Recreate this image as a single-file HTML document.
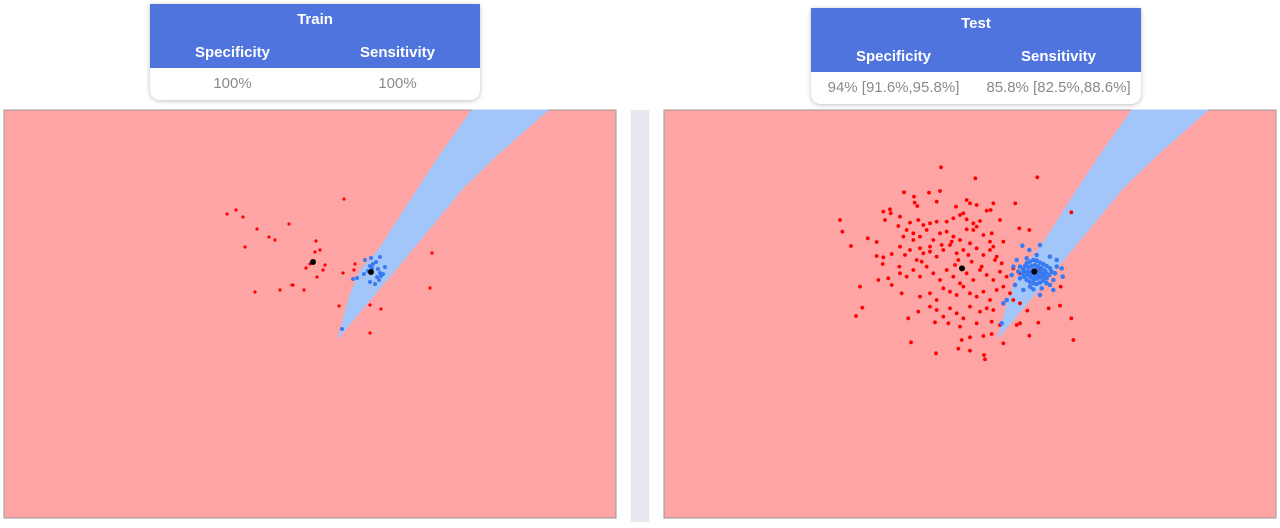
<!DOCTYPE html>
<html><head><meta charset="utf-8"><style>
body{margin:0;width:1280px;height:528px;background:#fff;position:relative;overflow:hidden;font-family:"Liberation Sans",sans-serif}
.tbl{position:absolute;width:330px;border-radius:0 0 10px 10px;box-shadow:0 1px 5px rgba(0,0,0,.25);overflow:hidden;background:#fff}
.hd{background:#4f74dd;color:#fff;font-weight:bold;font-size:15px;height:64px;position:relative}
.hd div{position:absolute;text-align:center}
.vals{height:32px;position:relative;color:#8a8a8a;font-size:15px}
.vals div{position:absolute;top:7px;text-align:center}
</style></head><body>
<div class="tbl" style="left:150px;top:4px">
 <div class="hd"><div style="left:0;width:330px;top:7px">Train</div>
 <div style="left:0;width:165px;top:40px">Specificity</div>
 <div style="left:165px;width:165px;top:40px">Sensitivity</div></div>
 <div class="vals"><div style="left:0;width:165px">100%</div>
 <div style="left:165px;width:165px">100%</div></div>
</div>
<div class="tbl" style="left:811px;top:8px">
 <div class="hd"><div style="left:0;width:330px;top:7px">Test</div>
 <div style="left:0;width:165px;top:40px">Specificity</div>
 <div style="left:165px;width:165px;top:40px">Sensitivity</div></div>
 <div class="vals"><div style="left:0;width:165px">94% [91.6%,95.8%]</div>
 <div style="left:165px;width:165px">85.8% [82.5%,88.6%]</div></div>
</div>
<div style="position:absolute;left:631px;top:110px;width:18px;height:412px;background:#e8e9ee"></div>
<svg id="svg" width="1280" height="528" style="position:absolute;left:0;top:0"></svg>
<script>
// train data (plot units, 0..612 x, 0..408 y)
const trainRedX=[340,223,232,239,253,285,265,271,241,312,311,316,306,302,321,319,313,351,350,339,251,276,288,289,300,335,366,377,366,428,426];
const trainRedY=[89,104,100,107,119,114,127,130,137,131,142,140,154,158,155,160,167,154,160,163,182,180,175,175,180,196,195,199,223,143,178];
const trainBlueX=[361,367,376,369,366,381,374,364,360,376,379,373,377,353,349,366,371,338,372,368,375];
const trainBlueY=[150,148,147,154,156,157,159,161,164,163,164,167,166,168,169,172,174,219,152,158,170];
const trainCentX=[309,367];const trainCentY=[152,162];
// test data (zoom units: x -> 156+v/3, y -> 50+v/3)
const testRedX=[363,466,652,252,327,360,282,284,292,350,408,440,450,470,520,500,512,586,190,210,195,212,240,270,295,310,330,350,380,400,420,430,440,460,480,540,60,67,143,93,170,235,250,260,280,300,320,340,360,380,400,420,440,460,470,490,510,515,550,598,628,170,190,188,215,240,238,255,270,290,310,330,350,370,390,410,430,450,470,490,510,530,545,520,525,120,175,205,215,240,260,280,300,320,340,360,380,400,420,440,460,480,500,520,540,560,580,245,300,330,350,370,390,410,430,450,470,490,510,530,550,570,580,600,127,108,265,295,330,350,370,390,410,430,450,480,500,520,345,385,420,470,515,540,590,600,655,273,425,450,490,515,550,628,348,415,450,492,495,686,720,754,760,722,754,622,625,660,600,395,415,445,330,305,365,405,455,485,280,300];
const testRedY=[22,55,52,97,98,93,110,128,138,125,140,120,130,135,130,152,150,130,155,148,180,160,170,188,180,195,190,185,185,175,165,160,178,190,183,180,180,215,235,258,246,198,230,210,220,230,210,240,220,215,230,240,208,210,200,225,245,220,245,205,210,288,292,312,282,260,320,285,270,300,280,260,290,270,255,280,270,250,265,285,270,290,310,260,300,380,360,355,375,340,350,330,350,320,340,360,330,350,370,340,360,330,345,360,335,350,325,400,410,400,420,385,395,405,380,400,410,395,420,390,380,400,420,430,443,468,475,455,440,450,470,445,460,475,440,455,445,450,487,490,500,490,485,495,495,490,488,547,540,532,528,522,550,527,580,566,572,585,598,445,437,475,540,380,157,452,340,330,340,245,300,285,275,305,255,315,305,320,240,265];
const testBlueX=[607,660,628,590,580,575,585,610,660,700,728,725,710,690,650,620,600,630,680,705,620,630,640,650,660,670,680,690,695,688,680,670,660,650,640,630,620,612,608,610,615,625,635,645,655,665,675,680,672,662,652,642,632,622,618,628,638,648,658,668,655,645,635,600,700,710,595,640,665,690,550,560,545];
const testBlueY=[257,255,270,300,320,345,375,390,405,390,350,325,300,290,285,295,355,380,370,340,310,305,300,302,308,312,318,325,335,345,355,362,368,372,370,366,360,350,340,328,318,322,318,315,320,325,332,340,348,352,356,358,352,345,335,335,330,328,336,340,345,345,342,320,360,320,335,388,385,375,430,420,490];
const testCentX=[426,643];const testCentY=[325,335];
const NS="http://www.w3.org/2000/svg",svg=document.getElementById('svg');
function mk(t,a){const e=document.createElementNS(NS,t);for(const k in a)e.setAttribute(k,a[k]);svg.appendChild(e);return e;}
function panel(ox,oy,xs,ys,red,blue,cent,name,pr){
 const bg=mk('rect',{x:ox,y:oy,width:612,height:408,fill:'#ffa4a4',stroke:'#999','stroke-width':1});
 
 
 const L=[[468,0],[436,45],[406,91],[376,138],[356,161],[346,185],[334,228]];
 const R=[[359,198],[393,158],[426,118],[459,78],[493,45],[544,0]];
 const d='M'+L.concat(R).map(p=>(ox+p[0])+','+(oy+p[1])).join(' L')+'Z';
 const b=mk('path',{fill:'#a3c6fa',d:d,'stroke':'#a3c6fa','stroke-width':1,'stroke-linejoin':'round'});
 
 
 red[0].forEach((v,i)=>{const c=mk('circle',{cx:ox+xs(v),cy:oy+ys(red[1][i]),r:pr,fill:'#ff0000'});
  
  });
 blue[0].forEach((v,i)=>{const c=mk('circle',{cx:ox+xs(v),cy:oy+ys(blue[1][i]),r:pr+0.4,fill:'#3a7af0'});
  
  });
 cent[0].forEach((v,i)=>{const c=mk('circle',{cx:ox+xs(v),cy:oy+ys(cent[1][i]),r:3,fill:'#000'});
  
  });
}
panel(4,110,v=>v,v=>v,[trainRedX,trainRedY],[trainBlueX,trainBlueY],[trainCentX,trainCentY],'train',1.6);
panel(664,110,v=>156+v/3,v=>50+v/3,[testRedX,testRedY],[testBlueX,testBlueY],[testCentX,testCentY],'test',1.9);
</script>
</body></html>
